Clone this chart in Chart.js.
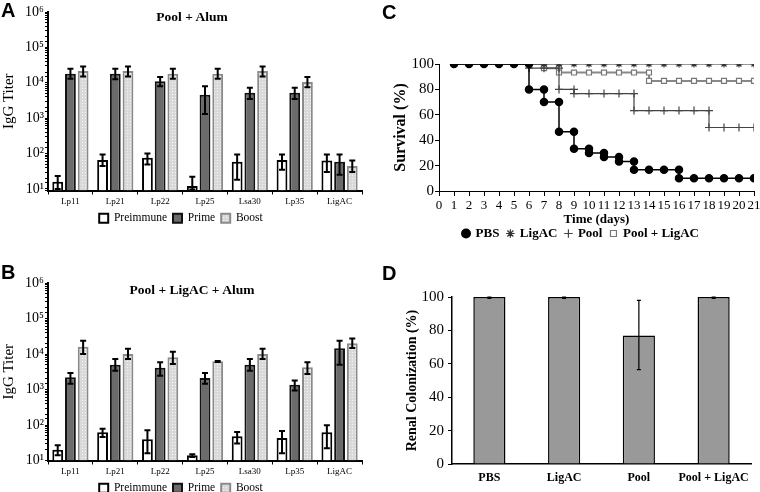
<!DOCTYPE html>
<html>
<head>
<meta charset="utf-8">
<script src="https://cdn.jsdelivr.net/npm/chart.js@4.4.0/dist/chart.umd.min.js"></script>
<style>
body { margin: 0; width: 760px; height: 492px; overflow: hidden; background: #fff; position: relative; }
canvas { position: absolute; }
.letter { position: absolute; font: bold 20px 'Liberation Sans', Arial, sans-serif; line-height: 20px; color: #000; }
.ttl { position: absolute; font: bold 13.5px 'Liberation Serif', serif; line-height: 16px; white-space: nowrap; transform: translateX(-50%); color: #000; }
</style>
</head>
<body>
<canvas id="chartA" width="380" height="234" style="left:0;top:0"></canvas>
<canvas id="chartB" width="380" height="264" style="left:0;top:240px"></canvas>
<canvas id="chartD" width="380" height="254" style="left:380px;top:240px"></canvas>
<canvas id="chartC" width="402" height="250" style="left:380px;top:0"></canvas>
<div class="letter" style="left:1px;top:0px">A</div>
<div class="letter" style="left:1px;top:262px">B</div>
<div class="letter" style="left:382px;top:2px">C</div>
<div class="letter" style="left:382px;top:263px">D</div>
<div class="ttl" style="left:192px;top:9px">Pool + Alum</div>
<div class="ttl" style="left:192px;top:282px">Pool + LigAC + Alum</div>
<script>
const antigens = ['Lp11', 'Lp21', 'Lp22', 'Lp25', 'Lsa30', 'Lp35', 'LigAC'];

// A: Pool + Alum (IgG titers, error bar ends)
const aPre      = [16, 65, 76, 12, 58, 65, 63];
const aPreLo    = [10, 44, 49, 9, 18, 35, 30];
const aPreHi    = [23, 94, 100, 22, 94, 94, 94];
const aPrime    = [18000, 18000, 11000, 4600, 5200, 5200, 58];
const aPrimeLo  = [13000, 12500, 7900, 1300, 3500, 3500, 25];
const aPrimeHi  = [25000, 25000, 14500, 7900, 7200, 7200, 94];
const aBoost    = [21500, 21500, 18000, 18000, 21500, 10500, 44];
const aBoostLo  = [15000, 15000, 13000, 13000, 15000, 7500, 30];
const aBoostHi  = [29000, 29000, 25000, 25000, 29000, 14500, 63];

// B: Pool + LigAC + Alum
const bPre      = [20, 62, 40, 14, 48, 43, 62];
const bPreLo    = [14, 46, 16, 12.6, 30, 16, 22];
const bPreHi    = [27, 79, 71, 15, 63, 68, 98];
const bPrime    = [2200, 5000, 4100, 2100, 5000, 1350, 14500];
const bPrimeLo  = [1450, 3400, 2450, 1450, 3400, 940, 5000];
const bPrimeHi  = [2900, 7200, 5900, 2900, 7200, 1800, 23500];
const bBoost    = [16000, 10000, 8100, 6200, 10000, 4200, 20000];
const bBoostLo  = [10000, 7200, 5200, 6000, 7200, 2750, 14800];
const bBoostHi  = [23500, 14000, 11600, 6300, 14000, 5900, 27500];

// C: survival (%) by day, vertical drops repeat the day
const pbsDays    = [1, 2, 3, 4, 5, 6, 6, 7, 7, 8, 8, 9, 9, 10, 10, 11, 11, 12, 12, 13, 13, 14, 15, 16, 16, 17, 18, 19, 20, 21];
const pbsSurv    = [100, 100, 100, 100, 100, 100, 80, 80, 70, 70, 46.7, 46.7, 33.3, 33.3, 30, 30, 26.7, 26.7, 23.3, 23.3, 16.7, 16.7, 16.7, 16.7, 10, 10, 10, 10, 10, 10];
const ligDays    = [1, 2, 3, 4, 5, 6, 7, 8, 9, 10, 11, 12, 13, 14, 15, 16, 17, 18, 19, 20, 21];
const ligSurv    = [100, 100, 100, 100, 100, 100, 100, 100, 100, 100, 100, 100, 100, 100, 100, 100, 100, 100, 100, 100, 100];
const poolDays   = [1, 2, 3, 4, 5, 6, 6, 7, 8, 8, 9, 9, 10, 11, 12, 13, 13, 14, 15, 16, 17, 18, 18, 19, 20, 21];
const poolSurv   = [100, 100, 100, 100, 100, 100, 96.7, 96.7, 96.7, 80, 80, 76.7, 76.7, 76.7, 76.7, 76.7, 63.3, 63.3, 63.3, 63.3, 63.3, 63.3, 50, 50, 50, 50];
const poolLigDays = [1, 2, 3, 4, 5, 6, 7, 7, 8, 8, 9, 10, 11, 12, 13, 14, 14, 15, 16, 17, 18, 19, 20, 21];
const poolLigSurv = [100, 100, 100, 100, 100, 100, 100, 96.7, 96.7, 93.3, 93.3, 93.3, 93.3, 93.3, 93.3, 93.3, 86.7, 86.7, 86.7, 86.7, 86.7, 86.7, 86.7, 86.7];

// D: renal colonization (%)
const groups   = ['PBS', 'LigAC', 'Pool', 'Pool + LigAC'];
const renal    = [100, 100, 77, 100];
const renalLo  = [99.2, 99.2, 56.5, 99.2];
const renalHi  = [100, 100, 98, 100];

const serif = "'Liberation Serif', 'Times New Roman', serif";
Chart.defaults.font.family = serif;
Chart.defaults.color = '#000';

const errorBarPlugin = {
    id: 'errorBars',
    afterDatasetsDraw(chart) {
        const ctx = chart.ctx;
        const yScale = chart.scales.y;
        chart.data.datasets.forEach((ds, i) => {
            if (!ds.errLow)
                return;
            const meta = chart.getDatasetMeta(i);
            const cap = ds.capSize || 3;
            ctx.save();
            ctx.strokeStyle = '#000';
            ctx.lineWidth = ds.errWidth || 2;
            meta.data.forEach((bar, j) => {
                const top = yScale.getPixelForValue(ds.errHigh[j]);
                const bottom = Math.min(yScale.getPixelForValue(ds.errLow[j]), yScale.bottom - 1);
                ctx.beginPath();
                ctx.moveTo(bar.x, top);
                ctx.lineTo(bar.x, bottom);
                ctx.moveTo(bar.x - cap, top);
                ctx.lineTo(bar.x + cap, top);
                ctx.moveTo(bar.x - cap, bottom);
                ctx.lineTo(bar.x + cap, bottom);
                ctx.stroke();
            });
            ctx.restore();
        });
    }
};
Chart.register(errorBarPlugin);

function dottedFill() {
    const c = document.createElement('canvas');
    c.width = 3;
    c.height = 3;
    const g = c.getContext('2d');
    g.fillStyle = '#d9d9d9';
    g.fillRect(0, 0, 3, 3);
    g.fillStyle = '#f5f5f5';
    g.fillRect(1, 1, 1, 1);
    return g.createPattern(c, 'repeat');
}

const sup = {1: '\u00b9', 2: '\u00b2', 3: '\u00b3', 4: '\u2074', 5: '\u2075', 6: '\u2076'};
function powerLabel(v) {
    const e = Math.log10(v);
    if (Math.abs(e - Math.round(e)) > 1e-9)
        return '';
    return '10' + sup[Math.round(e)];
}

function titerChart(id, yMin, topPad, sets) {
    const colors = [
        {bg: '#ffffff', border: '#000000'},
        {bg: '#6b6b6b', border: '#111111'},
        {bg: dottedFill(), border: '#8a8a8a'}
    ];
    const names = ['Preimmune', 'Prime', 'Boost'];
    return new Chart(document.getElementById(id), {
        type: 'bar',
        data: {
            labels: antigens,
            datasets: sets.map((s, i) => ({
                label: names[i],
                data: s[0],
                errLow: s[1],
                errHigh: s[2],
                backgroundColor: colors[i].bg,
                borderColor: colors[i].border,
                borderWidth: 2,
                categoryPercentage: 0.85,
                barPercentage: 0.85
            }))
        },
        options: {
            responsive: false,
            animation: false,
            layout: {padding: {left: 0, right: 18, top: topPad, bottom: 0}},
            scales: {
                x: {
                    grid: {offset: true, drawOnChartArea: false, tickLength: 4, color: '#000'},
                    border: {color: '#000', width: 2},
                    ticks: {font: {size: 9}, padding: 2, maxRotation: 0, autoSkip: false},
                    afterFit(s) { s.height = 16; }
                },
                y: {
                    type: 'logarithmic',
                    min: yMin,
                    max: 1e6,
                    grid: {drawOnChartArea: false, tickLength: 3, color: '#000'},
                    border: {color: '#000', width: 2},
                    ticks: {font: {size: 14}, padding: 1, autoSkip: false, callback: powerLabel},
                    title: {display: true, text: 'IgG Titer', font: {size: 15}, padding: 0},
                    afterFit(s) { s.width = 48; }
                }
            },
            plugins: {
                legend: {
                    position: 'bottom',
                    labels: {boxWidth: 9, boxHeight: 9, padding: 6, font: {size: 11.5}}
                },
                tooltip: {enabled: false}
            }
        }
    });
}

titerChart('chartA', 9, 12, [
    [aPre, aPreLo, aPreHi],
    [aPrime, aPrimeLo, aPrimeHi],
    [aBoost, aBoostLo, aBoostHi]
]);
titerChart('chartB', 10, 43, [
    [bPre, bPreLo, bPreHi],
    [bPrime, bPrimeLo, bPrimeHi],
    [bBoost, bBoostLo, bBoostHi]
]);

const pairs = (xs, ys) => xs.map((x, i) => ({x: x, y: ys[i]}));

new Chart(document.getElementById('chartC'), {
    type: 'line',
    data: {
        datasets: [
            {label: 'PBS', data: pairs(pbsDays, pbsSurv), borderColor: '#000', backgroundColor: '#000',
             borderWidth: 1.5, pointStyle: 'circle', pointRadius: 3.5},
            {label: 'LigAC', data: pairs(ligDays, ligSurv), borderColor: '#333', backgroundColor: '#333',
             borderWidth: 1.2, pointStyle: 'star', pointRadius: 3.5},
            {label: 'Pool', data: pairs(poolDays, poolSurv), borderColor: '#444', backgroundColor: '#444',
             borderWidth: 1.2, pointStyle: 'cross', pointRadius: 4},
            {label: 'Pool + LigAC', data: pairs(poolLigDays, poolLigSurv), borderColor: '#888', backgroundColor: '#fff',
             borderWidth: 2, pointStyle: 'rect', pointRadius: 3.5, pointBorderColor: '#777', pointBorderWidth: 1.2}
        ]
    },
    options: {
        responsive: false,
        animation: false,
        layout: {padding: {left: 28, right: 28, top: 64, bottom: 0}},
        scales: {
            x: {
                type: 'linear',
                min: 0,
                max: 21,
                grid: {drawOnChartArea: false, tickLength: 5, color: '#000'},
                border: {color: '#000', width: 1},
                ticks: {stepSize: 1, font: {size: 13}, padding: 2, maxRotation: 0, autoSkip: false},
                title: {display: true, text: 'Time (days)', font: {size: 13, weight: 'bold'}, padding: {top: 0, bottom: -8}},
                afterFit(s) { s.height = 28; }
            },
            y: {
                min: 0,
                max: 100,
                grid: {drawOnChartArea: false, tickLength: 4, color: '#000'},
                border: {color: '#000', width: 1},
                ticks: {stepSize: 20, font: {size: 15}, padding: 1},
                title: {display: true, text: 'Survival (%)', font: {size: 16, weight: 'bold'}, padding: {top: -17, bottom: 0}},
                afterFit(s) { s.width = 31; }
            }
        },
        plugins: {
            legend: {
                position: 'bottom',
                labels: {usePointStyle: true, boxWidth: 6, boxHeight: 6, padding: 8, font: {size: 13, weight: 'bold'}}
            },
            tooltip: {enabled: false}
        }
    }
});

new Chart(document.getElementById('chartD'), {
    type: 'bar',
    data: {
        labels: groups,
        datasets: [{
            label: 'Renal Colonization',
            data: renal,
            errLow: renalLo,
            errHigh: renalHi,
            errWidth: 1.2,
            capSize: 2,
            backgroundColor: '#999999',
            borderColor: '#000',
            borderWidth: 1.5,
            categoryPercentage: 0.43,
            barPercentage: 1
        }]
    },
    options: {
        responsive: false,
        animation: false,
        layout: {padding: {left: 0, right: 9, top: 57, bottom: 0}},
        scales: {
            x: {
                grid: {drawOnChartArea: false, tickLength: 0, color: 'transparent'},
                border: {color: '#000', width: 1.5},
                ticks: {font: {size: 12, weight: 'bold'}, padding: 7, maxRotation: 0, autoSkip: false},
                afterFit(s) { s.height = 30; }
            },
            y: {
                min: 0,
                max: 100,
                grid: {drawOnChartArea: false, tickLength: 4, color: '#000'},
                border: {color: '#000', width: 1.5},
                ticks: {stepSize: 20, font: {size: 15}, padding: 4},
                title: {display: true, text: 'Renal Colonization (%)', font: {size: 14, weight: 'bold'}, padding: {top: 24, bottom: 0}},
                afterFit(s) { s.width = 72; }
            }
        },
        plugins: {
            legend: {display: false},
            tooltip: {enabled: false}
        }
    }
});
</script>
</body>
</html>
